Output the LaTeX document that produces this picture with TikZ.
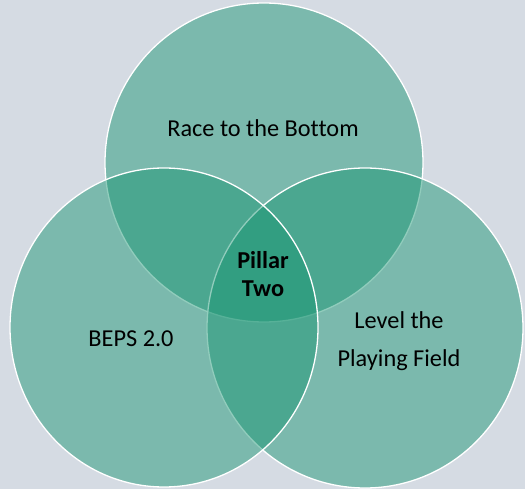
\documentclass[tikz,border=0pt]{standalone}
\usepackage{fontspec}
\setmainfont{Carlito}[Ligatures={NoCommon}]
\definecolor{bgc}{RGB}{213,219,227}
\definecolor{venn}{RGB}{22,148,113}
\tikzset{
  vennset/.style={fill=venn, fill opacity=0.47, draw=white, draw opacity=1, line width=1.3pt},
  lbl/.style={anchor=base, inner sep=0pt, font=\fontsize{24.3}{29}\selectfont, text=black},
}
\begin{document}
\begin{tikzpicture}[x=1pt,y=-1pt]
  \fill[bgc] (0,0) rectangle (525,489);
  \useasboundingbox (0,0) rectangle (525,489);
  % top, right, left (drawing order)
  \path[vennset] (264,162.5) ellipse [x radius=159pt, y radius=159.5pt];
  \path[vennset] (365,328) ellipse [x radius=158pt, y radius=160pt];
  \path[vennset] (164,327.5) ellipse [x radius=154pt, y radius=159.5pt];
  \node[lbl] (race) at (263,137) {Race to the Bottom};
  \node[lbl] (beps) at (131,346) {BEPS 2.0};
  \node[lbl] (level) at (399,328) {Level the};
  \node[lbl] (field) at (399,366) {Playing Field};
  \node[lbl, font=\fontsize{24.3}{29}\selectfont\bfseries] (pillar) at (263,269) {Pillar};
  \node[lbl, font=\fontsize{24.3}{29}\selectfont\bfseries] (two) at (263,297) {Two};
\end{tikzpicture}
\end{document}
